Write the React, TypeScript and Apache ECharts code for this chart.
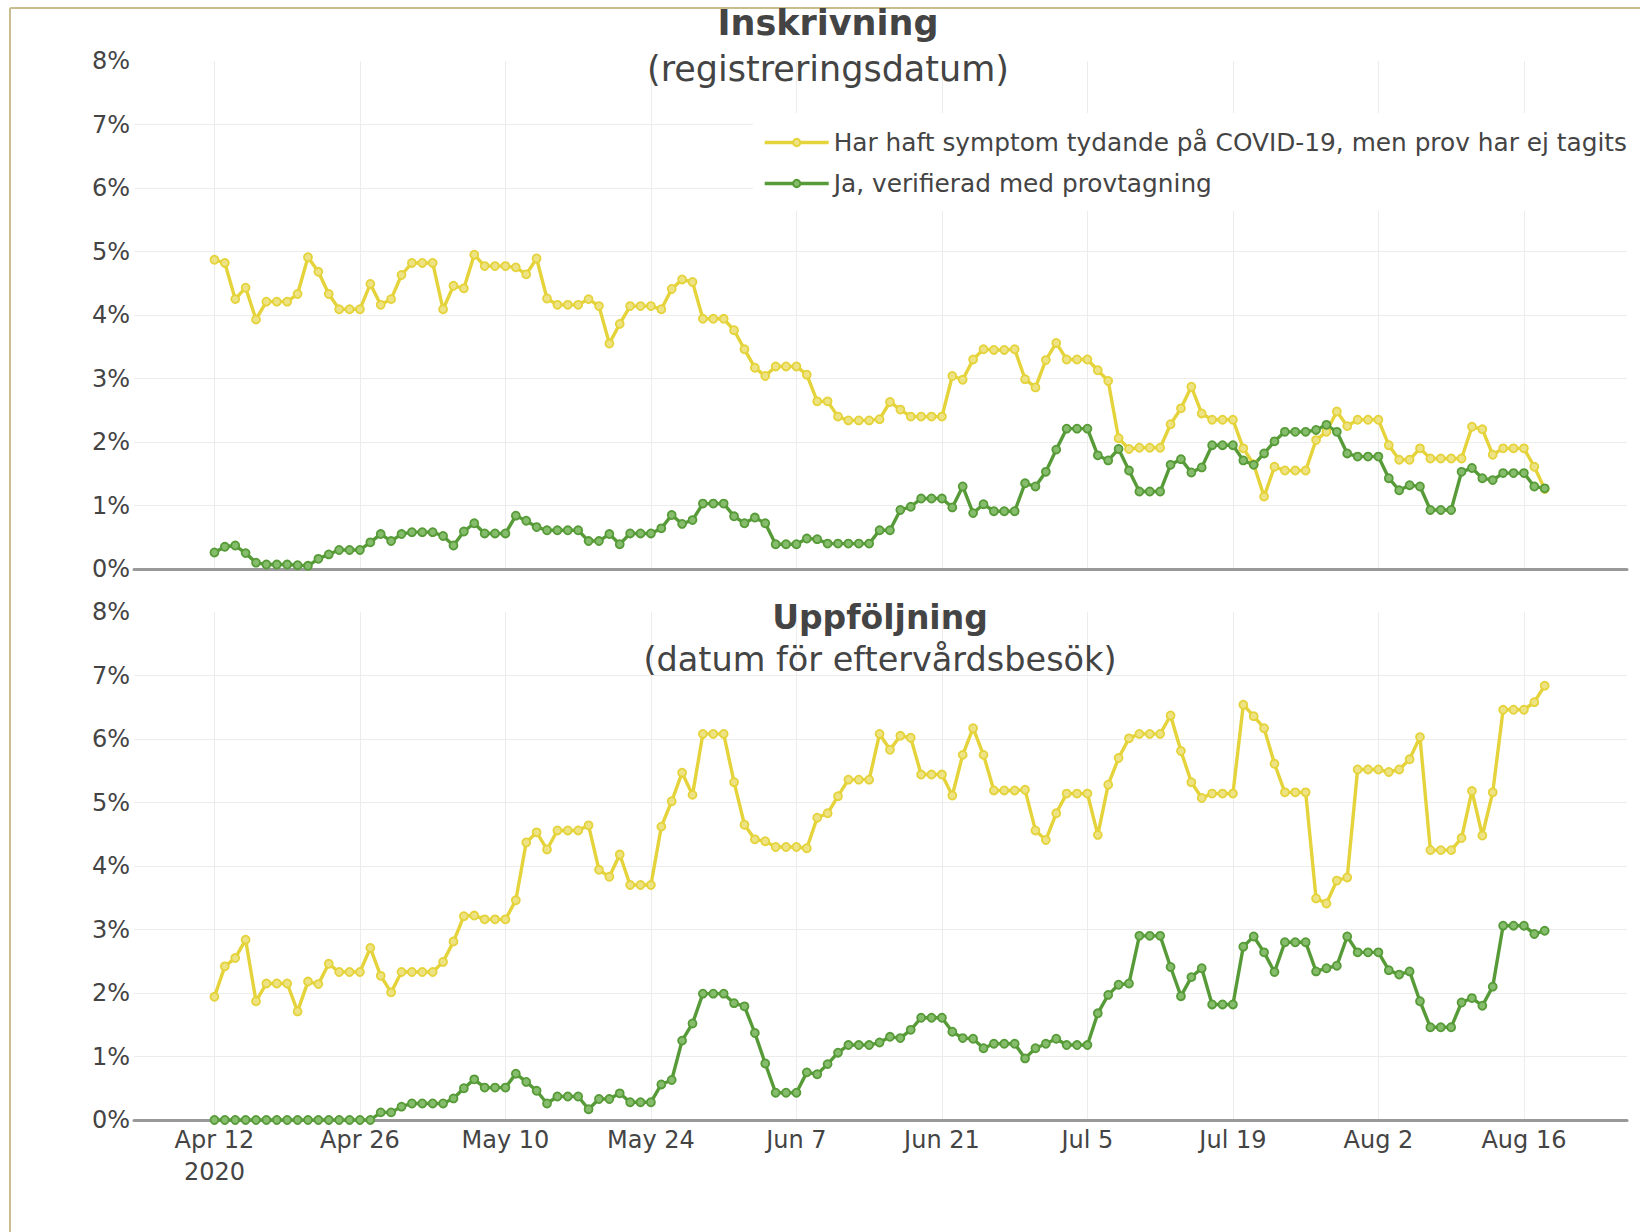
import React, { useEffect, useRef } from "react";
import * as echarts from "echarts";

// x = days since 2020-04-12
const tickDays = [0, 14, 28, 42, 56, 70, 84, 98, 112, 126];
const tickLabels = ["Apr 12\n2020", "Apr 26", "May 10", "May 24", "Jun 7", "Jun 21", "Jul 5", "Jul 19", "Aug 2", "Aug 16"];
const yTicks = [0, 1, 2, 3, 4, 5, 6, 7, 8];

const nameSymptom = "Har haft symptom tydande på COVID-19, men prov har ej tagits";
const nameVerified = "Ja, verifierad med provtagning";

const inskrivningSymptom = [
  4.87, 4.82, 4.25, 4.43, 3.93, 4.21, 4.21, 4.21, 4.33, 4.91, 4.68, 4.33, 4.09, 4.09, 4.09, 4.49,
  4.16, 4.25, 4.63, 4.82, 4.82, 4.82, 4.09, 4.46, 4.42, 4.95, 4.77, 4.77, 4.77, 4.75, 4.64, 4.89,
  4.26, 4.16, 4.16, 4.16, 4.25, 4.14, 3.55, 3.86, 4.14, 4.14, 4.14, 4.09, 4.41, 4.56, 4.52, 3.94,
  3.94, 3.94, 3.76, 3.46, 3.17, 3.04, 3.19, 3.19, 3.19, 3.06, 2.64, 2.64, 2.40, 2.34, 2.34, 2.34,
  2.36, 2.63, 2.51, 2.40, 2.40, 2.40, 2.40, 3.04, 2.98, 3.30, 3.46, 3.45, 3.45, 3.46, 2.99, 2.86,
  3.29, 3.56, 3.30, 3.30, 3.30, 3.13, 2.96, 2.06, 1.89, 1.91, 1.91, 1.91, 2.28, 2.53, 2.87, 2.45,
  2.35, 2.35, 2.35, 1.90, 1.65, 1.14, 1.61, 1.55, 1.55, 1.55, 2.03, 2.16, 2.48, 2.25, 2.35, 2.35,
  2.35, 1.95, 1.72, 1.72, 1.90, 1.74, 1.74, 1.74, 1.74, 2.24, 2.20, 1.80, 1.90, 1.90, 1.90, 1.61,
  1.26,
];

const inskrivningVerified = [
  0.26, 0.35, 0.37, 0.25, 0.10, 0.07, 0.07, 0.07, 0.06, 0.05, 0.16, 0.23, 0.30, 0.30, 0.30, 0.42,
  0.55, 0.44, 0.55, 0.58, 0.58, 0.58, 0.52, 0.37, 0.59, 0.72, 0.56, 0.56, 0.56, 0.84, 0.76, 0.66,
  0.61, 0.61, 0.61, 0.61, 0.44, 0.44, 0.55, 0.39, 0.56, 0.56, 0.56, 0.64, 0.85, 0.71, 0.77, 1.03,
  1.03, 1.03, 0.83, 0.72, 0.81, 0.72, 0.39, 0.39, 0.39, 0.48, 0.47, 0.40, 0.40, 0.40, 0.40, 0.40,
  0.61, 0.61, 0.93, 0.98, 1.11, 1.11, 1.11, 0.97, 1.30, 0.88, 1.02, 0.91, 0.91, 0.91, 1.35, 1.30,
  1.53, 1.88, 2.21, 2.21, 2.21, 1.79, 1.71, 1.89, 1.55, 1.22, 1.22, 1.22, 1.64, 1.73, 1.52, 1.60,
  1.95, 1.95, 1.95, 1.71, 1.64, 1.82, 2.01, 2.16, 2.16, 2.16, 2.19, 2.27, 2.16, 1.82, 1.77, 1.77,
  1.77, 1.43, 1.24, 1.32, 1.30, 0.93, 0.93, 0.93, 1.53, 1.59, 1.43, 1.40, 1.51, 1.51, 1.51, 1.30,
  1.27,
];

const uppfoljningSymptom = [
  1.94, 2.42, 2.55, 2.84, 1.87, 2.15, 2.15, 2.15, 1.71, 2.18, 2.14, 2.46, 2.33, 2.33, 2.33, 2.71,
  2.27, 2.01, 2.33, 2.33, 2.33, 2.33, 2.49, 2.81, 3.21, 3.22, 3.16, 3.16, 3.16, 3.46, 4.37, 4.53,
  4.26, 4.56, 4.56, 4.56, 4.64, 3.94, 3.83, 4.18, 3.70, 3.70, 3.70, 4.62, 5.02, 5.47, 5.12, 6.08,
  6.08, 6.08, 5.32, 4.65, 4.42, 4.39, 4.30, 4.30, 4.30, 4.28, 4.76, 4.83, 5.10, 5.36, 5.36, 5.36,
  6.08, 5.83, 6.05, 6.02, 5.44, 5.44, 5.44, 5.11, 5.75, 6.17, 5.75, 5.19, 5.19, 5.19, 5.20, 4.56,
  4.41, 4.83, 5.14, 5.14, 5.14, 4.49, 5.28, 5.70, 6.01, 6.08, 6.08, 6.08, 6.37, 5.81, 5.32, 5.07,
  5.14, 5.14, 5.14, 6.54, 6.36, 6.17, 5.61, 5.16, 5.16, 5.16, 3.49, 3.41, 3.77, 3.82, 5.52, 5.52,
  5.52, 5.48, 5.52, 5.68, 6.03, 4.25, 4.25, 4.25, 4.44, 5.18, 4.48, 5.16, 6.46, 6.46, 6.46, 6.58,
  6.84,
];

const uppfoljningVerified = [
  0, 0, 0, 0, 0, 0, 0, 0, 0, 0, 0, 0, 0, 0, 0, 0,
  0.12, 0.12, 0.21, 0.26, 0.26, 0.26, 0.26, 0.34, 0.50, 0.64, 0.51, 0.51, 0.51, 0.73, 0.60, 0.46,
  0.26, 0.37, 0.37, 0.37, 0.17, 0.33, 0.33, 0.42, 0.28, 0.28, 0.28, 0.56, 0.63, 1.25, 1.52, 1.99,
  1.99, 1.99, 1.84, 1.79, 1.37, 0.89, 0.43, 0.43, 0.43, 0.75, 0.72, 0.88, 1.06, 1.18, 1.18, 1.18,
  1.22, 1.31, 1.29, 1.42, 1.61, 1.61, 1.61, 1.39, 1.29, 1.28, 1.13, 1.20, 1.20, 1.20, 0.97, 1.13,
  1.20, 1.28, 1.18, 1.18, 1.18, 1.68, 1.97, 2.13, 2.15, 2.90, 2.90, 2.90, 2.41, 1.95, 2.25, 2.39,
  1.82, 1.82, 1.82, 2.73, 2.89, 2.64, 2.33, 2.80, 2.80, 2.80, 2.34, 2.39, 2.43, 2.89, 2.64, 2.64,
  2.64, 2.36, 2.29, 2.34, 1.87, 1.46, 1.46, 1.46, 1.85, 1.92, 1.80, 2.10, 3.06, 3.06, 3.06, 2.93,
  2.98,
];

const FONT = '"DejaVu Sans", Verdana, sans-serif';
const TEXT = "#444";
const YELLOW = "#e5d33b";
const YELLOW_FILL = "#eee384";
const GREEN = "#579b38";
const GREEN_FILL = "#86bd6c";
const X_MIN = -7.74;
const X_MAX = 135.92;

function toPoints(values: number[]) {
  return values.map((v, i) => [i, v]);
}

function labelFor(v: number) {
  const idx = tickDays.indexOf(Math.round(v));
  return idx >= 0 ? tickLabels[idx] : "";
}

export default function App() {
  const ref = useRef<HTMLDivElement>(null);

  useEffect(() => {
    if (!ref.current) return;
    const chart = echarts.init(ref.current, undefined, { renderer: "svg" });

    const xAxisBase = (gridIndex: number, showLabels: boolean) => ({
      type: "value",
      gridIndex,
      min: X_MIN,
      max: X_MAX,
      axisLine: { show: true, onZero: false, lineStyle: { color: "#999", width: 3 } },
      axisTick: { show: false, customValues: tickDays },
      axisLabel: {
        show: showLabels,
        customValues: tickDays,
        formatter: (v: number) => labelFor(v),
        color: TEXT,
        fontFamily: FONT,
        fontSize: 24,
        lineHeight: 32,
        margin: 4,
      },
      splitLine: { show: true, lineStyle: { color: "#ececec", width: 1 } },
    });

    const yAxisBase = (gridIndex: number) => ({
      type: "value",
      gridIndex,
      min: yTicks[0],
      max: yTicks[yTicks.length - 1],
      interval: 1,
      axisLine: { show: false },
      axisTick: { show: false },
      axisLabel: {
        formatter: "{value}%",
        color: TEXT,
        fontFamily: FONT,
        fontSize: 24,
        margin: 4,
      },
      splitLine: { show: true, showMaxLine: false, lineStyle: { color: "#ececec", width: 1 } },
    });

    const lineSeries = (name: string, values: number[], idx: number, color: string, fill: string) => ({
      type: "line",
      name,
      xAxisIndex: idx,
      yAxisIndex: idx,
      data: toPoints(values),
      symbol: "circle",
      symbolSize: 8,
      showAllSymbol: true,
      lineStyle: { color, width: 3.4 },
      itemStyle: { color: fill, borderColor: color, borderWidth: 1.8 },
      emphasis: { disabled: true },
    });

    chart.setOption({
      animation: false,
      backgroundColor: "#fff",
      grid: [
        { left: 134, right: 13, top: 61, height: 508 },
        { left: 134, right: 13, top: 612, height: 508 },
      ],
      xAxis: [xAxisBase(0, false), xAxisBase(1, true)],
      yAxis: [yAxisBase(0), yAxisBase(1)],
      legend: {
        data: [nameSymptom, nameVerified],
        orient: "vertical",
        left: 753,
        top: 113,
        backgroundColor: "#fff",
        padding: [17, 12, 15, 10],
        itemGap: 16,
        itemWidth: 64,
        itemHeight: 9,
        lineStyle: { width: 3.4 },
        textStyle: { color: TEXT, fontFamily: FONT, fontSize: 24.8, lineHeight: 24 },
        selectedMode: false,
      },
      series: [
        lineSeries(nameSymptom, inskrivningSymptom, 0, YELLOW, YELLOW_FILL),
        lineSeries(nameVerified, inskrivningVerified, 0, GREEN, GREEN_FILL),
        lineSeries(nameSymptom, uppfoljningSymptom, 1, YELLOW, YELLOW_FILL),
        lineSeries(nameVerified, uppfoljningVerified, 1, GREEN, GREEN_FILL),
      ],
      graphic: [
        { type: "line", z: 0, shape: { x1: 10, y1: 8, x2: 1640, y2: 8 }, style: { stroke: "#c9bd8e", lineWidth: 2 } },
        { type: "line", z: 0, shape: { x1: 10, y1: 8, x2: 10, y2: 1232 }, style: { stroke: "#c9bd8e", lineWidth: 2 } },
        {
          type: "text", x: 828, y: 23, z: 10,
          style: { text: "Inskrivning", fontFamily: FONT, fontWeight: "bold", fontSize: 35, fill: TEXT, align: "center", verticalAlign: "middle" },
        },
        {
          type: "text", x: 828, y: 69, z: 10,
          style: { text: "(registreringsdatum)", fontFamily: FONT, fontSize: 35, fill: TEXT, align: "center", verticalAlign: "middle" },
        },
        {
          type: "text", x: 880, y: 617, z: 10,
          style: { text: "Uppföljning", fontFamily: FONT, fontWeight: "bold", fontSize: 33, fill: TEXT, align: "center", verticalAlign: "middle" },
        },
        {
          type: "text", x: 880, y: 659, z: 10,
          style: { text: "(datum för eftervårdsbesök)", fontFamily: FONT, fontSize: 33.5, fill: TEXT, align: "center", verticalAlign: "middle" },
        },
      ],
    });

    return () => chart.dispose();
  }, []);

  return (
    <div
      ref={ref}
      style={{ position: "fixed", left: 0, top: 0, width: 1640, height: 1232, background: "#fff" }}
    />
  );
}
